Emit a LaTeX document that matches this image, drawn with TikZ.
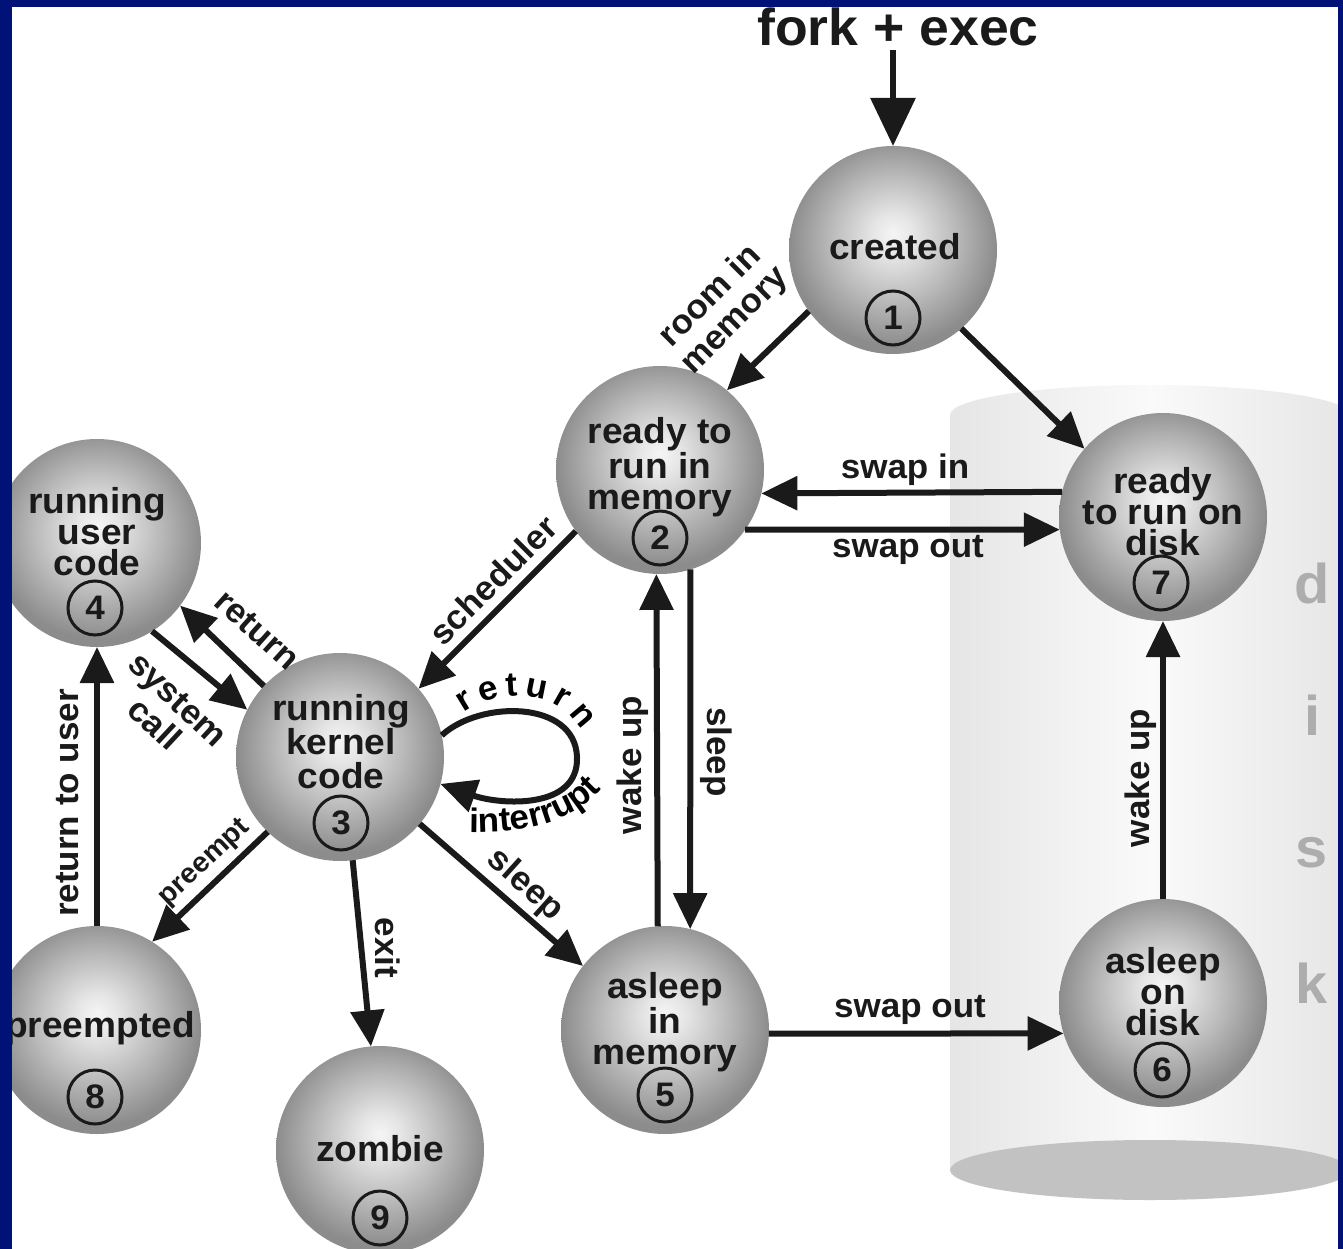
\documentclass[tikz,border=0pt]{standalone}
\usepackage{fontspec}
\setmainfont{Liberation Sans}[BoldFeatures={FakeStretch=1.03}]
\usetikzlibrary{arrows.meta,decorations.text}
\definecolor{frameblue}{RGB}{0,18,120}
\definecolor{ink}{RGB}{26,26,26}
\colorlet{sphcA}{black!4}
\colorlet{sphcB}{black!10}
\colorlet{sphcC}{black!27}
\colorlet{sphcD}{black!45}
\colorlet{cylside}{black!10}
\colorlet{cylmid}{black!2}
\colorlet{cylbottom}{black!24}
\colorlet{disktext}{black!32}
\pgfdeclareradialshading{sph}{\pgfpoint{0bp}{4bp}}{color(0bp)=(sphcA); color(5bp)=(sphcB); color(15bp)=(sphcC); color(25bp)=(sphcD); color(50bp)=(sphcD)}
\newcommand{\loopfont}{\bfseries\fontsize{34}{34}\selectfont}
\tikzset{
  sphere/.style={circle, minimum size=208pt, inner sep=0pt, outer sep=0pt, shade, shading=sph},
  stxt/.style={text=ink, font=\bfseries\fontsize{36}{31}\selectfont, align=center, inner sep=0pt},
  num/.style={circle, draw=ink, line width=3pt, minimum size=54pt, inner sep=0pt, text=ink, font=\bfseries\fontsize{34}{34}\selectfont},
  arr/.style={draw=ink, line width=6pt, -{Triangle[length=36pt,width=33pt]}},
  bigarr/.style={draw=ink, line width=6pt, -{Triangle[length=48pt,width=44pt]}},
  lbl/.style={text=ink, font=\bfseries\fontsize{34}{34}\selectfont, inner sep=0pt, align=center},
  smalllbl/.style={text=ink, font=\bfseries\fontsize{28}{28}\selectfont, inner sep=0pt},
  diskletter/.style={text=disktext, font=\bfseries\fontsize{56}{56}\selectfont, inner sep=0pt},
  cylbody/.style={left color=cylside, right color=cylside, middle color=cylmid, draw=none},
}
\begin{document}
\begin{tikzpicture}[x=1pt,y=-1pt]
\useasboundingbox (0,0) rectangle (1343,1249);
\clip (0,0) rectangle (1343,1249);
\fill[white] (0,0) rectangle (1343,1249);
% disk cylinder
\shade[cylbody] (950,415) rectangle (1350,1170);
\shade[cylbody] (1150,415) ellipse [x radius=200, y radius=30];
\fill[cylbottom] (1150,1170) ellipse [x radius=200, y radius=30];
\node[diskletter] (dd) at (1312,583) {d};
\node[diskletter] (di) at (1312,715) {i};
\node[diskletter] (ds) at (1312,853) {s};
\node[diskletter] (dk) at (1312,983) {k};
% spheres
\node[sphere] (n1) at (893,250) {};
\node[sphere] (n2) at (660,470) {};
\node[sphere] (n7) at (1163,517) {};
\node[sphere] (n4) at (97,543) {};
\node[sphere] (n3) at (340,757) {};
\node[sphere] (n5) at (665,1030) {};
\node[sphere] (n6) at (1163,1003) {};
\node[sphere] (n8) at (97,1030) {};
\node[sphere] (n9) at (380,1150) {};
% sphere texts
\node[stxt] (t1) at (895,247) {created};
\node[stxt] (t2) at (660,467) {ready to\\run in\\memory};
\node[stxt] (t7) at (1163,512) {ready\\to run on\\disk};
\node[stxt] (t4) at (97,532) {running\\user\\code};
\node[stxt, font=\bfseries\fontsize{36}{34}\selectfont] (t3) at (341,742) {running\\kernel\\code};
\node[stxt] (t5) at (665,1022) {asleep\\in\\memory};
\node[stxt] (t6) at (1163,992) {asleep\\on\\disk};
\node[stxt] (t8) at (100,1028) {preempted};
\node[stxt] (t9) at (380,1149) {zombie};
% numbers
\node[num] (c1) at (893,318) {1};
\node[num] (c2) at (660,538) {2};
\node[num] (c7) at (1161,583) {7};
\node[num] (c4) at (95,608) {4};
\node[num] (c3) at (341,823) {3};
\node[num] (c5) at (665,1095) {5};
\node[num] (c6) at (1162,1070) {6};
\node[num] (c8) at (95,1097) {8};
\node[num] (c9) at (380,1218) {9};
% fork + exec
\node[text=ink, font=\bfseries\fontsize{52}{52}\selectfont, inner sep=0pt] (fork) at (898,27) {fork + exec};
\coordinate (forkend) at (893,50);
\draw[bigarr] (forkend) -- (n1.north);
% connectors
\draw[arr] (n1.216) -- (n2.50);
\draw[arr] (n1.-49) -- (n7.139);
\draw[arr] (n7.166) -- (n2.-13);
\draw[arr] (n2.-35) -- (n7.-173);
\draw[arr] (n2.216) -- (n3.41);
\draw[arr] (n3.137) -- (n4.-37);
\draw[arr] (n4.-58) -- (n3.153);
\draw[arr] (n3.226) -- (n8.58);
\draw[arr] (n8.north) -- (n4.south);
\draw[arr] (n3.-83) -- (n9.95);
\draw[arr] (n3.-40) -- (n5.142);
\draw[arr] (n5.94) -- (n2.-92);
\draw[arr] (n2.-73) -- (n5.76);
\draw[arr] (n5.-2) -- (n6.197);
\draw[arr] (n6.north) -- (n7.south);
\draw[arr] (n3.12) .. controls (480,700) and (575,700) .. (577,757)
                   .. controls (579,810) and (500,805) .. (n3.-15);
% loop labels
\path[decorate, decoration={text along path, text={|\loopfont|return}, text align=fit to path}]
  (464,713) .. controls (495,690) and (555,686) .. (582,730);
\path[decorate, decoration={text along path, text={|\loopfont|interrupt}, text align=center}]
  (466,832) .. controls (525,834) and (575,822) .. (604,787);
% labels
\node[lbl, rotate=45] (lroom) at (723,309) {room in\\memory};
\node[lbl, rotate=45] (lsched) at (493,580) {scheduler};
\node[lbl, rotate=-42] (lret) at (257,630) {return};
\node[lbl, rotate=-43] (lsys) at (166,712) {system\\call};
\node[smalllbl, rotate=43] (lpre) at (205,863) {preempt};
\node[lbl, rotate=90] (lrtu) at (68,803) {return to user};
\node[lbl, rotate=-90] (lexit) at (388,948) {exit};
\node[lbl, rotate=-42] (lsleepA) at (525,885) {sleep};
\node[lbl, rotate=90] (lwakeA) at (633,765) {wake up};
\node[lbl, rotate=-90] (lsleepB) at (716,752) {sleep};
\node[lbl, rotate=90] (lwakeB) at (1141,778) {wake up};
\node[lbl] (lswapin) at (905,470) {swap in};
\node[lbl] (lswapout) at (908,550) {swap out};
\node[lbl] (lswapout2) at (910,1010) {swap out};
% frame
\fill[frameblue] (0,0) rectangle (12,1249);
\fill[frameblue] (0,0) rectangle (1343,7);
\fill[frameblue] (1338,0) rectangle (1343,1249);
\end{tikzpicture}
\end{document}
